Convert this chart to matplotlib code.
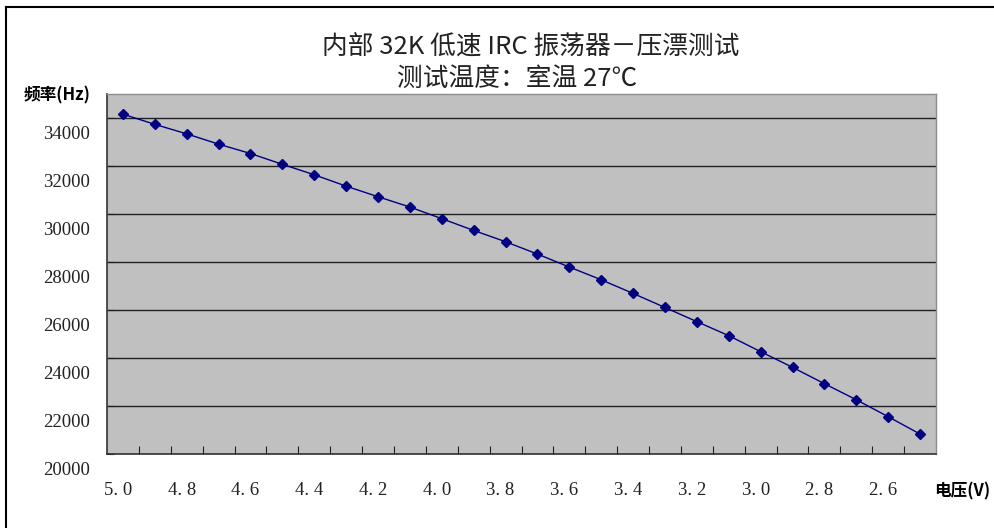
import numpy as np
import matplotlib.pyplot as plt
import matplotlib.transforms as mtransforms
from matplotlib.lines import Line2D

plt.rcParams['font.family'] = ['Noto Sans CJK SC', 'DejaVu Sans']

# voltage categories (V) and measured frequency (Hz)
voltage = ["5.0", "4.9", "4.8", "4.7", "4.6", "4.5", "4.4", "4.3", "4.2", "4.1",
           "4.0", "3.9", "3.8", "3.7", "3.6", "3.5", "3.4", "3.3", "3.2", "3.1",
           "3.0", "2.9", "2.8", "2.7", "2.6", "2.5"]
freq = [34160, 33735, 33340, 32910, 32520, 32070, 31635, 31160, 30720, 30290,
        29805, 29315, 28845, 28330, 27790, 27260, 26690, 26105, 25515, 24930,
        24265, 23610, 22930, 22260, 21555, 20830]
yticks = [20000, 22000, 24000, 26000, 28000, 30000, 32000, 34000]

title1 = "内部 32K 低速 IRC 振荡器－压漂测试"
title2 = "测试温度：室温 27℃"
ylabel = "频率(Hz)"
xlabel = "电压(V)"

W, H = 995, 528
fig = plt.figure(figsize=(W / 100, H / 100), dpi=100)
ax = fig.add_axes([107 / W, 1 - 454 / H, (936 - 107) / W, (454 - 94) / H])

# outer chart frame (left + top only visible)
fig.add_artist(Line2D([6 / W, 6 / W], [0, 1 - 7 / H], color='black', lw=1.5))
fig.add_artist(Line2D([6 / W, 1], [1 - 7 / H, 1 - 7 / H], color='black', lw=1.5))

ax.set_facecolor('#C0C0C0')
x = np.arange(len(voltage))
ax.plot(x, freq, color='#000080', lw=1.0, marker='D', markersize=5,
        markerfacecolor='#000080', markeredgecolor='#000080', zorder=3)

ax.set_xlim(-0.5, len(voltage) - 0.5)
ax.set_ylim(20000, 35000)

ax.set_yticks(yticks)
ax.yaxis.grid(True, color='#202020', lw=1.0)
ax.set_axisbelow(True)
ax.tick_params(axis='y', direction='in', length=5, color='#202020',
               labelsize=13.5, labelcolor='#222222', pad=12)
for lab in ax.get_yticklabels():
    lab.set_family(['Liberation Serif'])
    lab.set_transform(lab.get_transform() + mtransforms.ScaledTranslation(0, -14 / 100, fig.dpi_scale_trans))

# category boundaries as ticks, labels every other category
ax.set_xticks(np.arange(1, len(voltage)) - 0.5)
ax.set_xticklabels([])
ax.tick_params(axis='x', direction='in', length=6, color='#202020')
ax.set_xticks(x[::2], minor=True)
ax.set_xticklabels([v.replace('.', '. ') for v in voltage[::2]], minor=True)
ax.tick_params(axis='x', which='minor', length=0, labelsize=13.5,
               labelcolor='#222222', pad=20)
for lab in ax.get_xticklabels(minor=True):
    lab.set_family(['Liberation Serif'])
    lab.set_transform(lab.get_transform() + mtransforms.ScaledTranslation(-5 / 100, 0, fig.dpi_scale_trans))

for side in ['left', 'bottom']:
    ax.spines[side].set_color('#333333')
    ax.spines[side].set_linewidth(1.2)
for side in ['top', 'right']:
    ax.spines[side].set_color('#8C8C8C')
    ax.spines[side].set_linewidth(1.0)

fig.text(531 / W, 1 - 48 / H, title1, ha='center', va='center', fontsize=18.5,
         color='#222222')
fig.text(517 / W, 1 - 79 / H, title2, ha='center', va='center', fontsize=18.5,
         color='#222222')
fig.text(57 / W, 1 - 95 / H, ylabel, ha='center', va='center', fontsize=12,
         fontweight='bold', color='black')
fig.text(962 / W, 1 - 491 / H, xlabel, ha='center', va='center', fontsize=12,
         fontweight='bold', color='black')

fig.savefig('out.png', dpi=100)
